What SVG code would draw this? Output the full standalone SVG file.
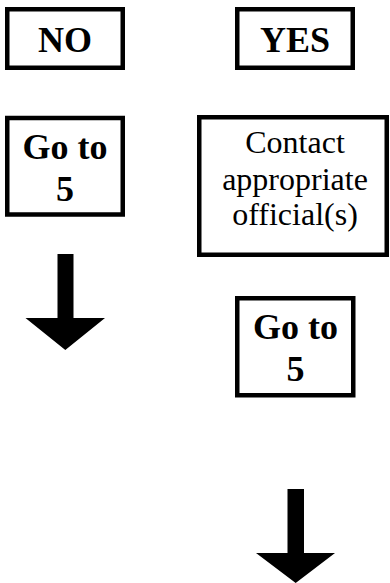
<svg xmlns="http://www.w3.org/2000/svg" width="390" height="583" viewBox="0 0 390 583">
  <style>
    .box { fill: #ffffff; stroke: #000000; stroke-width: 4.5; }
    .bold { font-family: "Liberation Serif", "Times New Roman", serif; font-weight: bold; font-size: 36px; fill: #000; text-anchor: middle; }
    .reg { font-family: "Liberation Serif", "Times New Roman", serif; font-size: 32px; fill: #000; text-anchor: middle; }
    .arrow { fill: #000000; }
  </style>
  <rect width="390" height="583" fill="#ffffff"/>

  <g id="no">
    <rect class="box" x="7.25" y="9.25" width="115.5" height="58.5"/>
    <text class="bold" x="65" y="52">NO</text>
  </g>

  <g id="yes">
    <rect class="box" x="237.25" y="9.25" width="115.5" height="58.5"/>
    <text class="bold" x="295" y="52">YES</text>
  </g>

  <g id="no-goto">
    <rect class="box" x="7.25" y="118" width="115.5" height="96.5"/>
    <text class="bold" x="65" y="159">Go to</text>
    <text class="bold" x="65" y="200.5">5</text>
  </g>

  <g id="contact">
    <rect class="box" x="199.25" y="117.25" width="187.5" height="137.5"/>
    <text class="reg" x="295" y="153">Contact</text>
    <text class="reg" x="295" y="189.5">appropriate</text>
    <text class="reg" x="295" y="225">official(s)</text>
  </g>

  <g id="yes-goto">
    <rect class="box" x="237.25" y="298.25" width="116" height="97"/>
    <text class="bold" x="295.5" y="338.5">Go to</text>
    <text class="bold" x="295.5" y="380.5">5</text>
  </g>

  <g id="connectors">
    <polygon class="arrow" points="57.5,254 73.5,254 73.5,318 105,318 65.3,350 25.5,318 57.5,318"/>
    <polygon class="arrow" points="287.5,489 304,489 304,553 335,553 295.7,583 256,553 287.5,553"/>
  </g>
</svg>
